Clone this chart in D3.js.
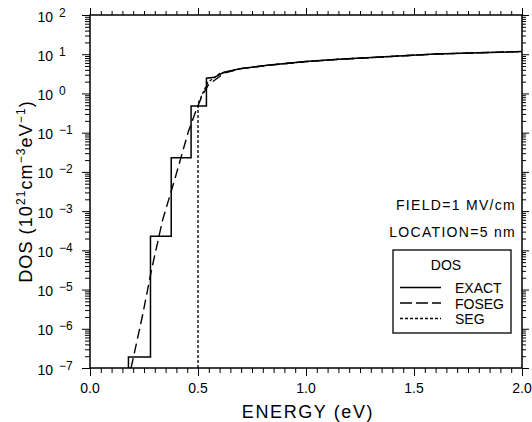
<!DOCTYPE html>
<html>
<head>
<meta charset="utf-8">
<script src="https://cdn.jsdelivr.net/npm/d3@7"></script>
<style>
  body { margin: 0; background: #fff; }
  svg { display: block; font-family: "Liberation Sans", Arial, sans-serif; }
</style>
</head>
<body>
<div id="chart"></div>
<script>
// values
var exactE   = [0.178, 0.178, 0.280, 0.280, 0.376, 0.376, 0.468, 0.468, 0.539, 0.539, 0.578, 0.62, 0.70, 0.82, 1.0, 1.15, 1.3, 1.45, 1.6, 1.8, 2.0];
var exactDOS = [1e-7, 1.9e-7, 1.9e-7, 2.3e-4, 2.3e-4, 0.023, 0.023, 0.48, 0.48, 2.45, 2.6, 3.5, 4.3, 5.2, 6.5, 7.4, 8.2, 9.1, 10.1, 10.9, 11.7];

var fosegE   = [0.19, 0.24, 0.285, 0.336, 0.394, 0.455, 0.486, 0.517, 0.548, 0.60, 0.62, 0.70, 0.82, 1.0, 1.15, 1.3, 1.45, 1.6, 1.8, 2.0];
var fosegDOS = [1e-7, 1.8e-6, 3.2e-5, 5.9e-4, 6.9e-3, 0.105, 0.31, 0.83, 1.66, 2.7, 3.3, 4.3, 5.2, 6.5, 7.4, 8.2, 9.1, 10.1, 10.9, 11.7];

var segE   = [0.5, 0.5, 0.545, 0.60, 0.70, 0.82, 1.0, 1.15, 1.3, 1.45, 1.6, 1.8, 2.0];
var segDOS = [1e-7, 0.55, 1.9, 3.2, 4.3, 5.2, 6.5, 7.4, 8.2, 9.1, 10.1, 10.9, 11.7];

var xMajor = [0.0, 0.5, 1.0, 1.5, 2.0];
var xLabels = ["0.0", "0.5", "1.0", "1.5", "2.0"];
var yExp = [-7, -6, -5, -4, -3, -2, -1, 0, 1, 2];

var legendNames = ["EXACT", "FOSEG", "SEG"];
var legendDash = ["none", "12,4", "3,2"];
var notes = ["FIELD=1 MV/cm", "LOCATION=5 nm"];

var W = 532, H = 422;
var pL = 90, pR = 522, pT = 15, pB = 368;

var svg = d3.select("#chart").append("svg")
    .attr("width", W)
    .attr("height", H);

var x = d3.scaleLinear().domain([0, 2]).range([pL, pR]);
var y = d3.scaleLog().domain([1e-7, 1e2]).range([pB, pT]);

var xMinor = d3.range(0, 41).map(function(i) { return i * 0.05; })
    .filter(function(v) { return Math.abs(v / 0.5 - Math.round(v / 0.5)) > 1e-6; });
var yMajor = yExp.map(function(e) { return Math.pow(10, e); });
var yMinor = [];
for (var k = -7; k < 2; k++) {
	for (var m = 2; m < 10; m++) yMinor.push(m * Math.pow(10, k));
}

function tickAxis(axis, vals, size, tx, ty) {
	var g = svg.append("g")
		.attr("transform", "translate(" + tx + "," + ty + ")")
		.call(axis.tickValues(vals).tickSize(size).tickSizeOuter(0).tickFormat(""));
	g.select(".domain").remove();
	g.selectAll("line").attr("stroke", "#000").attr("stroke-width", 1);
	return g;
}

// ticks on all four sides, outward
tickAxis(d3.axisBottom(x), xMinor, 5, 0, pB);
tickAxis(d3.axisBottom(x), xMajor, 8, 0, pB);
tickAxis(d3.axisTop(x), xMinor, 4, 0, pT);
tickAxis(d3.axisTop(x), xMajor, 7, 0, pT);
tickAxis(d3.axisLeft(y), yMinor, 5, pL, 0);
tickAxis(d3.axisLeft(y), yMajor, 8, pL, 0);
tickAxis(d3.axisRight(y), yMinor, 4, pR, 0);
tickAxis(d3.axisRight(y), yMajor, 7, pR, 0);

// frame
svg.append("rect")
	.attr("x", pL).attr("y", pT)
	.attr("width", pR - pL).attr("height", pB - pT)
	.attr("fill", "none").attr("stroke", "#000").attr("stroke-width", 1.5);

// x labels
svg.selectAll(".xl").data(xMajor).enter().append("text")
	.attr("class", "xl")
	.attr("x", function(d) { return x(d); })
	.attr("y", 393)
	.attr("text-anchor", "middle")
	.attr("font-size", 14)
	.text(function(d, i) { return xLabels[i]; });

// y labels 10^n
var yl = svg.selectAll(".yl").data(yExp).enter().append("g")
	.attr("class", "yl")
	.attr("transform", function(d) { return "translate(0," + y(Math.pow(10, d)) + ")"; });
yl.append("text")
	.attr("x", 53).attr("y", 6.5)
	.attr("text-anchor", "end")
	.attr("font-size", 14)
	.text("10");
yl.append("text")
	.attr("x", 59).attr("y", 1.5)
	.attr("font-size", 12)
	.text(function(d) { return d < 0 ? "\u2212" + (-d) : "" + d; });

// axis titles
svg.append("text")
	.attr("x", (pL + pR) / 2 + 2)
	.attr("y", 418)
	.attr("text-anchor", "middle")
	.attr("font-size", 18)
	.attr("letter-spacing", 1.6)
	.text("ENERGY (eV)");

var yt = svg.append("text")
	.attr("transform", "translate(32," + (pT + pB) / 2 + ") rotate(-90)")
	.attr("text-anchor", "middle")
	.attr("font-size", 18)
	.attr("letter-spacing", 1.1);
yt.append("tspan").text("DOS (10");
yt.append("tspan").attr("dy", -7).attr("font-size", 12).text("21");
yt.append("tspan").attr("dy", 7).text("cm");
yt.append("tspan").attr("dy", -7).attr("font-size", 12).text("\u22123");
yt.append("tspan").attr("dy", 7).text("eV");
yt.append("tspan").attr("dy", -7).attr("font-size", 12).text("\u22121");
yt.append("tspan").attr("dy", 7).text(")");

// data lines
svg.append("clipPath").attr("id", "clip")
	.append("rect").attr("x", pL).attr("y", pT)
	.attr("width", pR - pL).attr("height", pB - pT);

var line = d3.line()
	.x(function(d) { return x(d[0]); })
	.y(function(d) { return y(d[1]); });

var series = [
	{ e: exactE, v: exactDOS, dash: "none", w: 1.5 },
	{ e: fosegE, v: fosegDOS, dash: "10,5", w: 1.4 },
	{ e: segE, v: segDOS, dash: "3,2", w: 1.3 }
];
var plot = svg.append("g").attr("clip-path", "url(#clip)");
series.forEach(function(s) {
	plot.append("path")
		.datum(d3.zip(s.e, s.v))
		.attr("d", line)
		.attr("fill", "none")
		.attr("stroke", "#000")
		.attr("stroke-width", s.w)
		.attr("stroke-dasharray", s.dash);
});

// notes
svg.selectAll(".note").data(notes).enter().append("text")
	.attr("class", "note")
	.attr("x", 516)
	.attr("y", function(d, i) { return 210 + i * 27; })
	.attr("text-anchor", "end")
	.attr("font-size", 14)
	.attr("letter-spacing", 1.3)
	.text(function(d) { return d; });

// legend
var lg = svg.append("g");
lg.append("rect")
	.attr("x", 393).attr("y", 250)
	.attr("width", 118).attr("height", 83)
	.attr("fill", "#fff").attr("stroke", "#000").attr("stroke-width", 1.3);
lg.append("text")
	.attr("x", 446).attr("y", 270)
	.attr("text-anchor", "middle")
	.attr("font-size", 14)
	.text("DOS");
legendNames.forEach(function(n, i) {
	var yy = 293 + i * 15.5;
	lg.append("line")
		.attr("x1", 400).attr("x2", 441)
		.attr("y1", yy - 5.5).attr("y2", yy - 5.5)
		.attr("stroke", "#000").attr("stroke-width", 1.3)
		.attr("stroke-dasharray", legendDash[i]);
	lg.append("text")
		.attr("x", 455).attr("y", yy)
		.attr("font-size", 14)
		.text(n);
});
</script>
</body>
</html>
